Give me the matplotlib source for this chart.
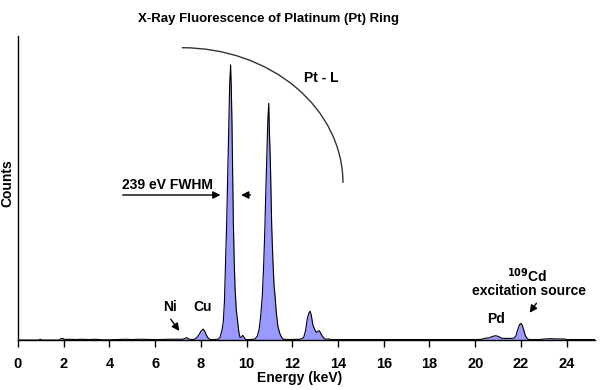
import matplotlib
matplotlib.use("Agg")
import matplotlib.pyplot as plt
from matplotlib.patches import Arc

plt.rcParams["font.family"] = ["Liberation Sans", "DejaVu Sans"]
plt.rcParams["font.weight"] = "bold"

# spectrum (counts in % of the Pt L-alpha peak)
energy_kev = [
    0.00, 0.90, 0.97, 1.04, 1.80, 1.88, 1.96, 2.05, 2.20, 2.50, 2.80, 3.10,
    3.40, 3.70, 4.00, 4.30, 4.70, 5.00, 5.40, 5.80, 6.20, 6.60, 7.00, 7.20,
    7.30, 7.38, 7.46, 7.60, 7.72, 7.82, 7.92, 8.02, 8.10, 8.17, 8.24, 8.32,
    8.42, 8.60, 8.75, 8.84, 8.92, 8.98, 9.03, 9.08, 9.13, 9.18, 9.22, 9.26,
    9.30, 9.33, 9.36, 9.39, 9.42, 9.46, 9.50, 9.55, 9.61, 9.66, 9.71, 9.76,
    9.83, 9.89, 9.96, 10.20, 10.37, 10.47, 10.55, 10.62, 10.69, 10.75, 10.80,
    10.84, 10.88, 10.93, 10.97, 11.00, 11.04, 11.07, 11.10, 11.15, 11.20,
    11.24, 11.30, 11.37, 11.45, 11.53, 11.61, 11.90, 12.20, 12.32, 12.42,
    12.50, 12.58, 12.65, 12.72, 12.78, 12.83, 12.90, 12.98, 13.05, 13.12,
    13.18, 13.25, 13.33, 13.41, 13.50, 13.60, 13.70, 14.00, 15.00, 16.00,
    17.00, 18.00, 19.00, 20.00, 20.30, 20.45, 20.60, 20.75, 20.90, 21.02,
    21.15, 21.30, 21.50, 21.70, 21.78, 21.86, 21.94, 22.00, 22.06, 22.13,
    22.20, 22.28, 22.36, 22.80, 23.05, 23.30, 23.60, 23.90, 24.00, 25.25,
]
counts = [
    0.0, 0.0, 0.3, 0.0, 0.0, 0.5, 0.6, 0.2, 0.3, 0.2, 0.3, 0.2,
    0.3, 0.1, 0.1, 0.2, 0.3, 0.2, 0.3, 0.2, 0.2, 0.3, 0.3, 0.3,
    0.6, 0.9, 0.4, 0.2, 0.3, 0.9, 2.0, 3.4, 4.0, 3.2, 1.8, 0.7,
    0.2, 0.2, 0.3, 1.0, 3.5, 6.6, 14, 28, 43, 62, 79, 93,
    100, 92, 79, 60, 43, 28, 18, 11, 6.6, 3.0, 1.0, 1.0,
    1.7, 1.0, 0.2, 0.2, 0.4, 1.5, 4, 9, 16.5, 28, 41,
    54, 65, 80, 86, 75, 65, 52, 41, 29, 20,
    16.5, 10, 5, 2.5, 1.0, 0.3, 0.2, 0.3, 0.3, 0.5,
    1.0, 3.5, 7.5, 9.8, 10.5, 9.0, 5.5, 3.8, 2.8, 3.2,
    3.4, 2.4, 1.2, 0.5, 0.3, 0.4, 0.2, 0.2, 0.2, 0.2,
    0.2, 0.2, 0.2, 0.2, 0.3, 0.7, 0.8, 1.3, 1.6, 1.3,
    0.7, 0.6, 0.6, 0.7, 1.5, 3.8, 5.6, 6.1, 5.4, 3.4,
    1.5, 0.5, 0.2, 0.2, 0.4, 0.5, 0.4, 0.4, 0.2, 0.2,
]
x_ticks = [0, 2, 4, 6, 8, 10, 12, 14, 16, 18, 20, 22, 24]

fig = plt.figure(figsize=(6, 3.9), dpi=100)
ax = fig.add_axes([0.030, 0.128, 0.962, 0.780])

ax.fill_between(energy_kev, counts, 0, color="#9999ff", lw=0)
ax.plot(energy_kev, counts, color="black", lw=0.8)

ax.set_xlim(0, 25.25)
ax.set_ylim(0, 110.5)
ax.set_xticks(x_ticks)
ax.set_yticks([])
ax.tick_params(axis="x", direction="out", length=5, width=1, pad=7,
               labelsize=10.5)
for lbl in ax.get_xticklabels():
    lbl.set_fontweight("bold")
for s in ["top", "right"]:
    ax.spines[s].set_visible(False)
for s in ["left", "bottom"]:
    ax.spines[s].set_linewidth(1)

fig.text(0.5, 0.032, "Energy (keV)", ha="center", va="center",
         fontsize=10, fontweight="bold")
fig.text(0.012, 0.53, "Counts", ha="center", va="center", rotation=90,
         fontsize=10, fontweight="bold")
fig.text(0.448, 0.952, "X-Ray Fluorescence of Platinum (Pt) Ring",
         ha="center", va="center", fontsize=9.5, fontweight="bold")

# Pt-L arc and labels
ax.add_patch(Arc((7.17, 57.1), 14.09, 98.2, theta1=0, theta2=90,
                 color="#333333", lw=1))
ax.text(13.25, 95.3, "Pt - L", ha="center", va="center", fontsize=10)

ax.text(6.54, 56.5, "239 eV FWHM", ha="center", va="center", fontsize=10)
arrow = dict(arrowstyle="-|>", color="black", lw=1, mutation_scale=11)
ax.annotate("", xy=(8.98, 52.7), xytext=(4.46, 52.7), arrowprops=arrow)
ax.annotate("", xy=(9.64, 52.7), xytext=(10.29, 52.7), arrowprops=arrow)

ax.text(6.67, 12.0, "Ni", ha="center", va="center", fontsize=10)
ax.annotate("", xy=(7.13, 2.5), xytext=(6.61, 8.4), arrowprops=arrow)
ax.text(8.09, 12.0, "Cu", ha="center", va="center", fontsize=10)
ax.text(20.91, 7.5, "Pd", ha="center", va="center", fontsize=10)
ax.text(22.27, 23.3, r"$^{\mathbf{109}}$Cd", ha="center", va="center",
        fontsize=10)
ax.text(22.35, 18.0, "excitation source", ha="center", va="center",
        fontsize=10)
ax.annotate("", xy=(22.31, 9.1), xytext=(22.75, 14.2), arrowprops=arrow)

fig.savefig("out.png", dpi=100)
